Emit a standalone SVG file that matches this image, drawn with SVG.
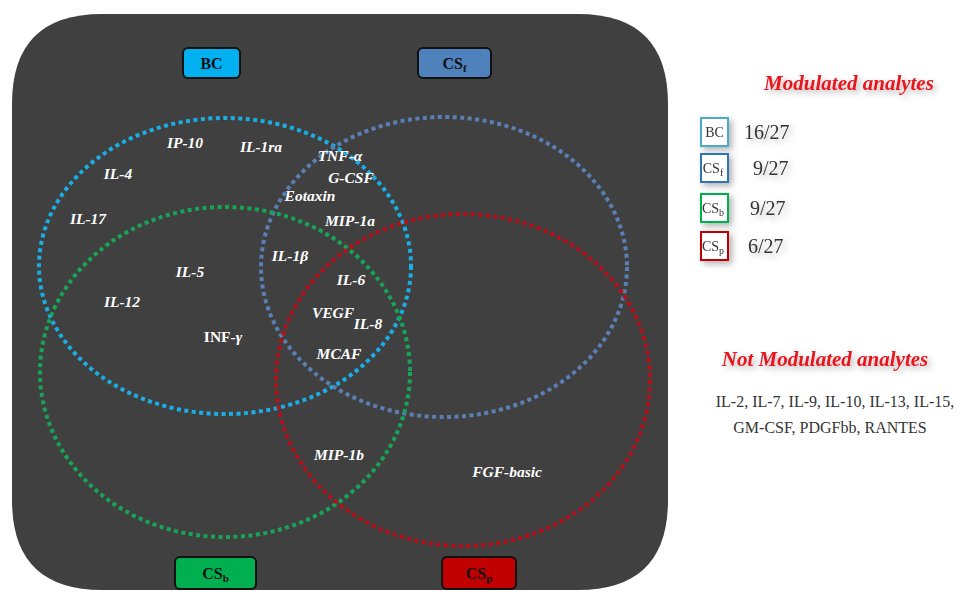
<svg xmlns="http://www.w3.org/2000/svg" width="956" height="601" viewBox="0 0 956 601">
<defs>
<style>
.bg{fill:#404040}
.c{fill:none;stroke-width:4;stroke-dasharray:4 3.5}
.lbl{font-family:"Liberation Serif",serif;font-weight:bold;font-size:16px;fill:#111;text-anchor:middle}
.an{font-family:"Liberation Serif",serif;font-weight:bold;font-style:italic;font-size:15.5px;fill:#ffffff;text-anchor:middle}
.hd{font-family:"Liberation Serif",serif;font-weight:bold;font-style:italic;font-size:21px;fill:#e8141c;text-anchor:middle}
.lg{font-family:"Liberation Serif",serif;font-size:14px;fill:#333333;text-anchor:middle}
.num{font-family:"Liberation Serif",serif;font-size:20px;fill:#333333}
.na{font-family:"Liberation Serif",serif;font-size:16px;fill:#333333;text-anchor:middle}
.box{stroke:#111;stroke-width:2}
.lb{fill:#ffffff;stroke-width:2}
</style>
<filter id="sh" x="-30%" y="-30%" width="160%" height="160%">
<feDropShadow dx="3" dy="3" stdDeviation="3" flood-color="#000" flood-opacity="0.3"/>
</filter>
</defs>
<path class="bg" d="M102,14 H578 Q668,14 668,104 V500 Q668,590 578,590 H102 Q12,590 12,500 V104 Q12,14 102,14 Z"/>

<g id="sets">
<ellipse id="circle-BC" class="c" cx="225" cy="266" rx="186" ry="148" stroke="#19aee6"/>
<ellipse id="circle-CSf" class="c" cx="444" cy="267" rx="183" ry="150" stroke="#5a7fb4"/>
<ellipse id="circle-CSb" class="c" cx="225" cy="372" rx="185" ry="165" stroke="#16a556"/>
<ellipse id="circle-CSp" class="c" cx="463" cy="380" rx="187" ry="166" stroke="#b8101a"/>
</g>

<g id="node-BC"><rect class="box" x="183" y="48" width="57" height="30" rx="5" fill="#00b0f0"/><text class="lbl" x="211.5" y="69">BC</text></g>
<g id="node-CSf"><rect class="box" x="418" y="48" width="73" height="30" rx="5" fill="#4f81bd"/><text class="lbl" x="454.5" y="69">CS<tspan font-size="11" dy="3">f</tspan></text></g>
<g id="node-CSb"><rect class="box" x="175" y="557" width="81" height="32" rx="5" fill="#00b050"/><text class="lbl" x="215.5" y="579">CS<tspan font-size="11" dy="3">b</tspan></text></g>
<g id="node-CSp"><rect class="box" x="442" y="557" width="74" height="32" rx="5" fill="#c00000"/><text class="lbl" x="479" y="579">CS<tspan font-size="11" dy="3">p</tspan></text></g>

<g id="analytes">
<text class="an" x="185" y="148">IP-10</text>
<text class="an" x="261" y="152">IL-1ra</text>
<text class="an" x="340" y="161">TNF-α</text>
<text class="an" x="118" y="179">IL-4</text>
<text class="an" x="351" y="183">G-CSF</text>
<text class="an" x="310" y="201">Eotaxin</text>
<text class="an" x="88" y="224">IL-17</text>
<text class="an" x="350" y="226">MIP-1a</text>
<text class="an" x="290" y="261">IL-1β</text>
<text class="an" x="190" y="277">IL-5</text>
<text class="an" x="351" y="285">IL-6</text>
<text class="an" x="122" y="307">IL-12</text>
<text class="an" x="333" y="318">VEGF</text>
<text class="an" x="368" y="329">IL-8</text>
<text class="an" x="223" y="342" style="font-style:normal">INF-<tspan style="font-style:italic">γ</tspan></text>
<text class="an" x="339" y="359">MCAF</text>
<text class="an" x="339" y="460">MIP-1b</text>
<text class="an" x="507" y="477">FGF-basic</text>
</g>

<g id="legend">
<text class="hd" x="849" y="90" filter="url(#sh)">Modulated analytes</text>
<g id="leg-BC" filter="url(#sh)"><rect class="lb" x="701" y="118" width="27" height="28" stroke="#4bacc6"/><text class="lg" x="714.5" y="137">BC</text><text class="num" x="744" y="139">16/27</text></g>
<g id="leg-CSf" filter="url(#sh)"><rect class="lb" x="701" y="154" width="27" height="28" stroke="#2e75b6"/><text class="lg" x="713" y="173">CS<tspan font-size="10" dy="3">f</tspan></text><text class="num" x="753" y="175">9/27</text></g>
<g id="leg-CSb" filter="url(#sh)"><rect class="lb" x="701" y="194" width="27" height="28" stroke="#00b050"/><text class="lg" x="713" y="213">CS<tspan font-size="10" dy="3">b</tspan></text><text class="num" x="750" y="215">9/27</text></g>
<g id="leg-CSp" filter="url(#sh)"><rect class="lb" x="701" y="232" width="27" height="28" stroke="#c00000"/><text class="lg" x="713" y="251">CS<tspan font-size="10" dy="3">p</tspan></text><text class="num" x="748" y="253">6/27</text></g>
<text class="hd" x="825" y="366" filter="url(#sh)">Not Modulated analytes</text>
<text class="na" x="835" y="407">IL-2, IL-7, IL-9, IL-10, IL-13, IL-15,</text>
<text class="na" x="830" y="433">GM-CSF, PDGFbb, RANTES</text>
</g>
</svg>
